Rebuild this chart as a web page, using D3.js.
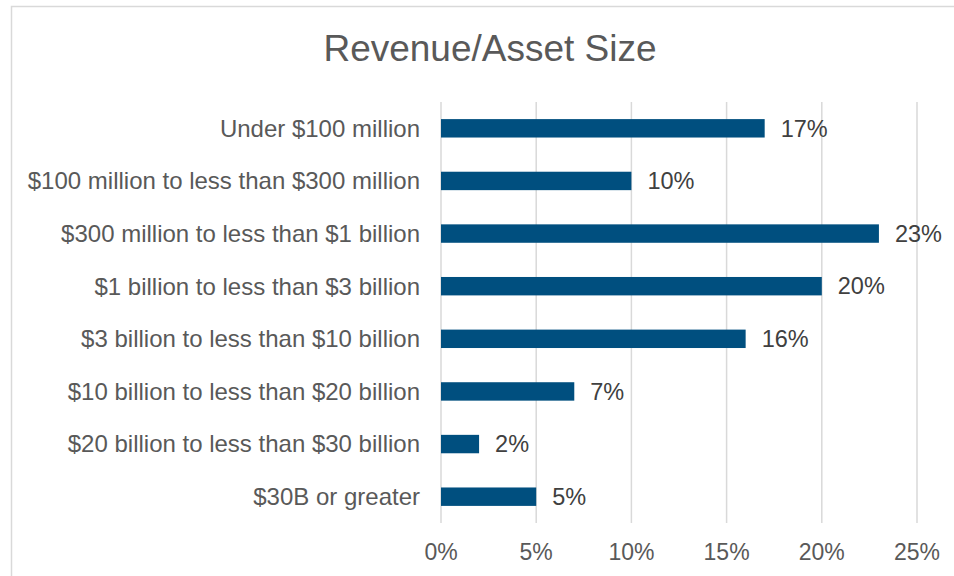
<!DOCTYPE html>
<html>
<head>
<meta charset="utf-8">
<script src="https://cdn.jsdelivr.net/npm/d3@7"></script>
<style>
  html, body { margin: 0; padding: 0; background: #ffffff; }
  svg { display: block; }
</style>
</head>
<body>
<svg id="chart" width="954" height="576"></svg>
<script>
const title = "Revenue/Asset Size";
const categories = [
  "Under $100 million",
  "$100 million to less than $300 million",
  "$300 million to less than $1 billion",
  "$1 billion to less than $3 billion",
  "$3 billion to less than $10 billion",
  "$10 billion to less than $20 billion",
  "$20 billion to less than $30 billion",
  "$30B or greater"
];
const values = [0.17, 0.10, 0.23, 0.20, 0.16, 0.07, 0.02, 0.05];
const tickValues = [0, 0.05, 0.10, 0.15, 0.20, 0.25];

const svg = d3.select("#chart");
const font = "'Liberation Sans', Arial, sans-serif";

// chart border
svg.append("rect")
  .attr("x", 11.5).attr("y", 6.5)
  .attr("width", 960).attr("height", 600)
  .attr("fill", "#ffffff")
  .attr("stroke", "#d9d9d9")
  .attr("stroke-width", 1.5);

const x = d3.scaleLinear().domain([0, 0.25]).range([441, 917]);
const y = d3.scaleBand().domain(categories).range([102, 523])
  .paddingInner(0.65).paddingOuter(0.325);

// gridlines
svg.append("g").selectAll("line").data(tickValues).join("line")
  .attr("x1", d => x(d)).attr("x2", d => x(d))
  .attr("y1", 102).attr("y2", 523)
  .attr("stroke", "#d9d9d9").attr("stroke-width", 1.5);

// x tick labels
svg.append("g").selectAll("text").data(tickValues).join("text")
  .attr("x", d => x(d)).attr("y", 560)
  .attr("text-anchor", "middle")
  .attr("font-family", font).attr("font-size", 23)
  .attr("fill", "#595959")
  .text(d3.format(".0%"));

// bars
svg.append("g").selectAll("rect").data(categories).join("rect")
  .attr("x", x(0))
  .attr("y", d => y(d))
  .attr("width", (d, i) => x(values[i]) - x(0))
  .attr("height", y.bandwidth())
  .attr("fill", "#004f7f");

// category labels
svg.append("g").selectAll("text").data(categories).join("text")
  .attr("x", 420)
  .attr("y", d => y(d) + y.bandwidth() / 2)
  .attr("dy", "0.35em")
  .attr("text-anchor", "end")
  .attr("font-family", font).attr("font-size", 24)
  .attr("fill", "#595959")
  .text(d => d);

// value labels
svg.append("g").selectAll("text").data(categories).join("text")
  .attr("x", (d, i) => x(values[i]) + 16)
  .attr("y", d => y(d) + y.bandwidth() / 2)
  .attr("dy", "0.35em")
  .attr("font-family", font).attr("font-size", 23.5)
  .attr("fill", "#404040")
  .text((d, i) => d3.format(".0%")(values[i]));

// title
svg.append("text")
  .attr("x", 490).attr("y", 61)
  .attr("text-anchor", "middle")
  .attr("font-family", font).attr("font-size", 37)
  .attr("fill", "#595959")
  .text(title);
</script>
</body>
</html>
